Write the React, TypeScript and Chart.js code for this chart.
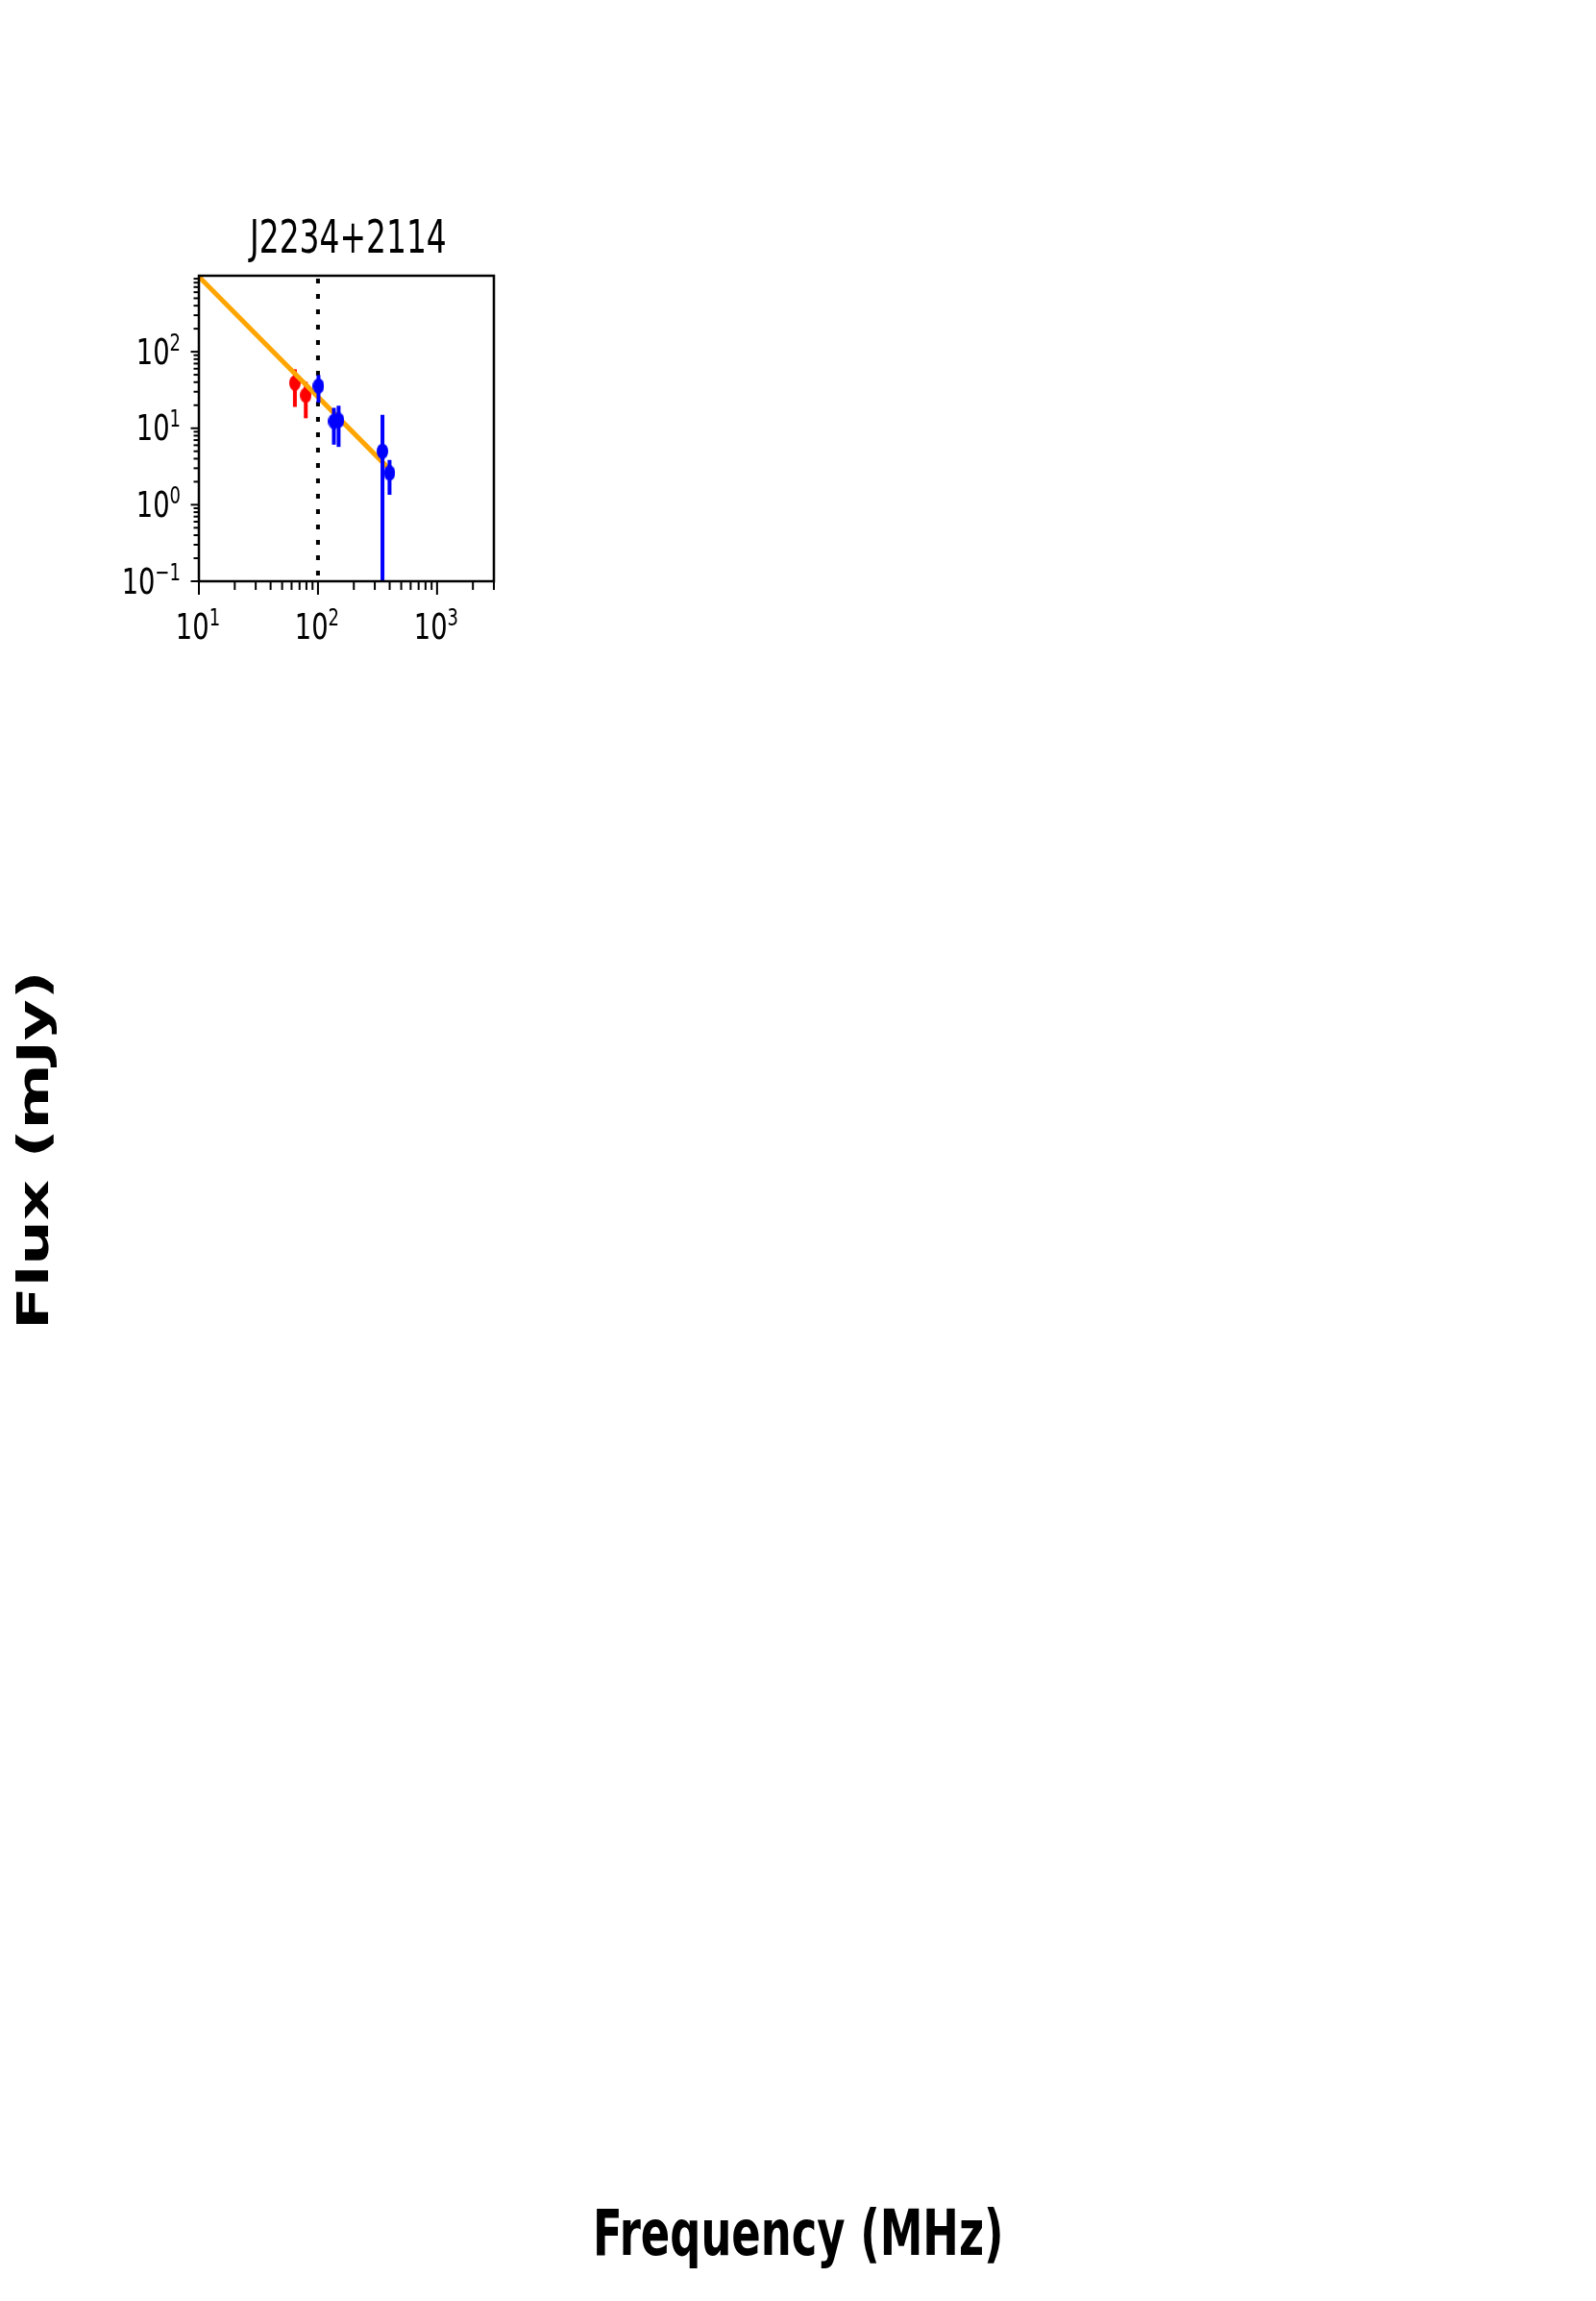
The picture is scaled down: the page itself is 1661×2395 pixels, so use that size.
import React, { useEffect, useRef } from 'react';
import { Chart, registerables } from 'chart.js';

Chart.register(...registerables);

const W = 1661;
const H = 2395;

// ---- text ----
const titleText = 'J2234+2114';
const xLabelText = 'Frequency (MHz)';
const yLabelText = 'Flux (mJy)';

// ---- axes ----
const xMin = 10;
const xMax = 3000;
const yMin = 0.1;
const yMax = 985;
const xTickValues = [10, 100, 1000];
const xTickExps = ['1', '2', '3'];
const yTickValues = [0.1, 1, 10, 100];
const yTickExps = ['\u22121', '0', '1', '2'];

// ---- data ----
const redFreq = [64, 79];
const redFlux = [39, 27];
const redErr = [20, 13.5];

const blueFreq = [101, 136, 149, 348, 399];
const blueFlux = [35.6, 12.3, 12.7, 5.0, 2.6];
const blueErr = [14, 6.2, 7, 10, 1.25];

const fitFreq = [10, 372];
const fitFlux = [955, 3.25];

const refFreq = 100;

function makeEllipse(color: string, w: number, h: number) {
  const c = document.createElement('canvas');
  c.width = w;
  c.height = h;
  const g = c.getContext('2d')!;
  g.fillStyle = color;
  g.beginPath();
  g.ellipse(w / 2, h / 2, w / 2, h / 2, 0, 0, Math.PI * 2);
  g.fill();
  return c;
}

function logTicks(min: number, max: number) {
  const out: { v: number; major: boolean }[] = [];
  for (let e = Math.floor(Math.log10(min)); e <= Math.ceil(Math.log10(max)); e++) {
    for (let k = 1; k <= 9; k++) {
      const v = k * Math.pow(10, e);
      if (v >= min * 0.9999 && v <= max * 1.0001) out.push({ v, major: k === 1 });
    }
  }
  return out;
}

function drawPow(ctx: CanvasRenderingContext2D, exp: string, x: number, baseline: number, align: 'center' | 'right') {
  const sx = 0.72;
  const mainFont = '38px "DejaVu Sans"';
  const supFont = '25px "DejaVu Sans"';
  ctx.font = mainFont;
  const w1 = ctx.measureText('10').width * sx;
  ctx.font = supFont;
  const w2 = ctx.measureText(exp).width * sx;
  const total = w1 + w2;
  const start = align === 'center' ? x - total / 2 : x - total;
  ctx.save();
  ctx.translate(start, baseline);
  ctx.scale(sx, 1);
  ctx.fillStyle = '#000';
  ctx.textAlign = 'left';
  ctx.textBaseline = 'alphabetic';
  ctx.font = mainFont;
  ctx.fillText('10', 0, 0);
  ctx.font = supFont;
  ctx.fillText(exp, w1 / sx, -14);
  ctx.restore();
}

function drawFitText(
  ctx: CanvasRenderingContext2D,
  text: string,
  font: string,
  cx: number,
  baseline: number,
  inkWidth: number,
  rotate = false
) {
  ctx.save();
  ctx.font = font;
  const m = ctx.measureText(text);
  const ink = m.actualBoundingBoxLeft + m.actualBoundingBoxRight;
  const sx = inkWidth / ink;
  const inkCenter = (m.actualBoundingBoxRight - m.actualBoundingBoxLeft) / 2;
  ctx.fillStyle = '#000';
  ctx.textAlign = 'left';
  ctx.textBaseline = 'alphabetic';
  ctx.translate(cx, baseline);
  if (rotate) ctx.rotate(-Math.PI / 2);
  ctx.scale(sx, 1);
  ctx.fillText(text, -inkCenter, 0);
  ctx.restore();
}

const errorBarPlugin = {
  id: 'errorBars',
  beforeDatasetDraw(chart: any, args: any) {
    const ds = chart.data.datasets[args.index];
    if (!ds.errors) return;
    const { ctx, chartArea: a } = chart;
    const xs = chart.scales.x;
    const ys = chart.scales.y;
    ctx.save();
    ctx.beginPath();
    ctx.rect(a.left, a.top, a.right - a.left, a.bottom - a.top);
    ctx.clip();
    ctx.strokeStyle = ds.errColor;
    ctx.lineWidth = 4;
    ctx.lineCap = 'butt';
    ds.data.forEach((p: any, i: number) => {
      const e = ds.errors[i];
      const px = xs.getPixelForValue(p.x);
      const top = ys.getPixelForValue(p.y + e);
      const bot = p.y - e > 0 ? ys.getPixelForValue(p.y - e) : a.bottom + 20;
      ctx.beginPath();
      ctx.moveTo(px, top);
      ctx.lineTo(px, bot);
      ctx.stroke();
    });
    ctx.restore();
  },
};

const axesPlugin = {
  id: 'mplAxes',
  afterDraw(chart: any) {
    const { ctx, chartArea: a } = chart;
    const xs = chart.scales.x;
    const ys = chart.scales.y;
    ctx.save();
    ctx.strokeStyle = '#000';
    ctx.lineWidth = 2.5;
    ctx.strokeRect(a.left, a.top, a.right - a.left, a.bottom - a.top);

    ctx.lineWidth = 2;
    for (const t of logTicks(xMin, xMax)) {
      const px = xs.getPixelForValue(t.v);
      const len = t.major ? 14 : 9;
      ctx.beginPath();
      ctx.moveTo(px, a.bottom);
      ctx.lineTo(px, a.bottom + len);
      ctx.stroke();
    }
    for (const t of logTicks(yMin, yMax)) {
      const py = ys.getPixelForValue(t.v);
      const len = t.major ? 8.5 : 5.5;
      ctx.beginPath();
      ctx.moveTo(a.left, py);
      ctx.lineTo(a.left - len, py);
      ctx.stroke();
    }

    xTickValues.forEach((v, i) => {
      drawPow(ctx, xTickExps[i], xs.getPixelForValue(v) - 1, a.bottom + 60, 'center');
    });
    yTickValues.forEach((v, i) => {
      drawPow(ctx, yTickExps[i], a.left - 19, ys.getPixelForValue(v) + 12.5, 'right');
    });

    const cx = (a.left + a.right) / 2;
    drawFitText(ctx, titleText, '48px "DejaVu Sans"', cx, a.top - 24, 205);
    drawFitText(ctx, xLabelText, 'bold 66px "DejaVu Sans"', 831, 2347, 420);
    drawFitText(ctx, yLabelText, 'bold 44px "DejaVu Sans"', 50, 1196.5, 363, true);
    ctx.restore();
  },
};

export default function App() {
  const ref = useRef<HTMLCanvasElement | null>(null);

  useEffect(() => {
    if (!ref.current) return;
    const redMarker = makeEllipse('#ff0000', 12, 16);
    const blueMarker = makeEllipse('#0000ff', 12, 16);

    const chart = new Chart(ref.current, {
      type: 'scatter',
      data: {
        datasets: [
          {
            label: 'blue',
            data: blueFreq.map((x, i) => ({ x, y: blueFlux[i] })),
            errors: blueErr,
            errColor: '#0000ff',
            pointStyle: blueMarker,
            pointRadius: 6,
            backgroundColor: '#0000ff',
            borderColor: '#0000ff',
            showLine: false,
            order: 0,
          } as any,
          {
            label: 'fit',
            data: fitFreq.map((x, i) => ({ x, y: fitFlux[i] })),
            showLine: true,
            borderColor: '#ffa500',
            borderWidth: 5,
            borderCapStyle: 'square',
            pointRadius: 0,
            order: 1,
          } as any,
          {
            label: 'red',
            data: redFreq.map((x, i) => ({ x, y: redFlux[i] })),
            errors: redErr,
            errColor: '#ff0000',
            pointStyle: redMarker,
            pointRadius: 6,
            backgroundColor: '#ff0000',
            borderColor: '#ff0000',
            showLine: false,
            order: 2,
          } as any,
          {
            label: 'ref',
            data: [
              { x: refFreq, y: yMax },
              { x: refFreq, y: yMin },
            ],
            showLine: true,
            borderColor: '#000000',
            borderWidth: 4,
            borderDash: [5, 11],
            borderDashOffset: -3,
            pointRadius: 0,
            order: 3,
          } as any,
        ],
      },
      options: {
        animation: false,
        responsive: false,
        devicePixelRatio: 1,
        events: [],
        layout: {
          padding: { left: 207, top: 287, right: W - 514, bottom: H - 605 },
        },
        plugins: {
          legend: { display: false },
          tooltip: { enabled: false },
          title: { display: false },
        },
        scales: {
          x: { type: 'logarithmic', min: xMin, max: xMax, display: false },
          y: { type: 'logarithmic', min: yMin, max: yMax, display: false },
        },
      },
      plugins: [errorBarPlugin, axesPlugin],
    });
    return () => chart.destroy();
  }, []);

  return (
    <div style={{ position: 'absolute', left: 0, top: 0, width: W, height: H, background: '#fff' }}>
      <canvas ref={ref} width={W} height={H} style={{ display: 'block' }} />
    </div>
  );
}
